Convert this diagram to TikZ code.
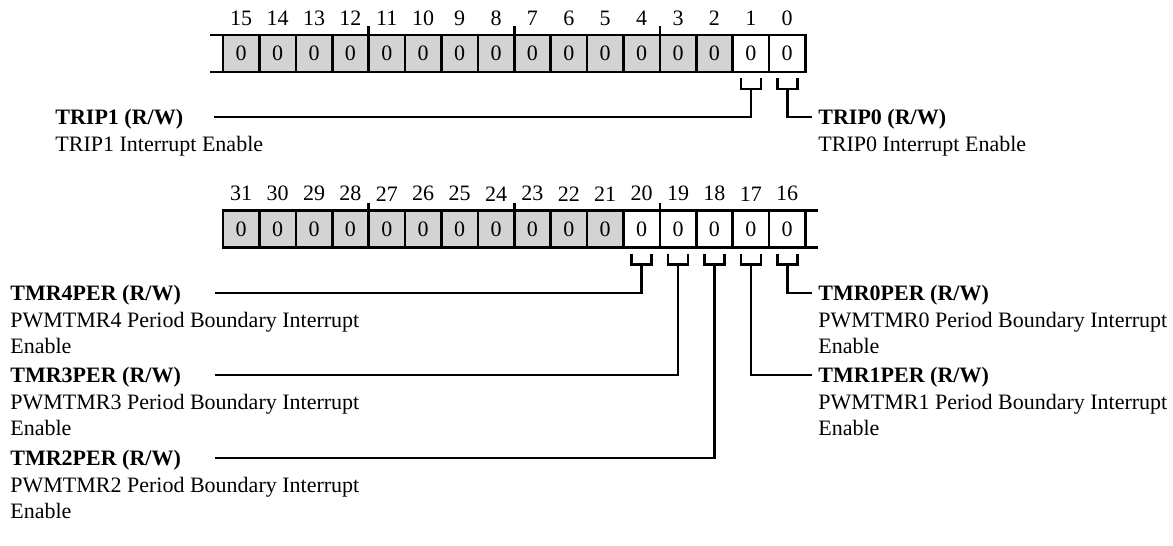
\documentclass[tikz,border=0pt]{standalone}
\usepackage{fontspec}
\setmainfont{Liberation Serif}
\usepackage{xcolor}
\usetikzlibrary{positioning}
\definecolor{rsvgray}{HTML}{D3D3D3}
\tikzset{
  regline/.style={black, line width=1.3pt},
  bitcell/.style={draw, line width=1.3pt, outer sep=0pt, inner sep=0pt, minimum width=18.2pt, minimum height=18.5pt, fill=white, font=\fontsize{11}{13}\selectfont},
  rsvcell/.style={bitcell, fill=rsvgray},
  bitnum/.style={inner sep=0pt, font=\fontsize{11}{13}\selectfont},
  fieldname/.style={inner sep=0pt, text height=7.5pt, text depth=0pt, font=\fontsize{11}{12.75}\selectfont\bfseries},
  fielddesc/.style={inner sep=0pt, align=left, font=\fontsize{11}{12.75}\selectfont}
}

\begin{document}
\begin{tikzpicture}[x=0.5pt, y=-0.5pt]
  \useasboundingbox (0,0) rectangle (1173,546);
  % low half word
  \foreach \b in {0,...,15}{
    \pgfmathsetmacro{\cx}{241.2+36.4*(15-\b)}
    \ifnum\b<2 \def\cellfill{white}\else\def\cellfill{rsvgray}\fi
    \node[bitcell, fill=\cellfill] (t\b) at (\cx,53.5) {0};
    \node[bitnum, above=4.5pt of t\b] {\b};
  }
  \draw[regline] ([xshift=-6.5pt]t15.north west) -- (t0.north east);
  \draw[regline] ([xshift=-6.5pt]t15.south west) -- (t0.south east);
  \foreach \b in {12,8,4}
    \draw[regline] (t\b.north east) -- ++(0,-9);
  % high half word
  \foreach \b in {16,...,31}{
    \pgfmathsetmacro{\cx}{241.2+36.4*(31-\b)}
    \ifnum\b<21 \def\cellfill{white}\else\def\cellfill{rsvgray}\fi
    \node[bitcell, fill=\cellfill] (b\b) at (\cx,229) {0};
    \node[bitnum, above=4.5pt of b\b] {\b};
  }
  \draw[regline] (b31.north west) -- ([xshift=6.5pt]b16.north east);
  \draw[regline] (b31.south west) -- ([xshift=6.5pt]b16.south east);
  \foreach \b in {28,24,20}
    \draw[regline] (b\b.north east) -- ++(0,-8);
  % brackets under the used bits
  \foreach \c in {t0,t1,b16,b17,b18,b19,b20}{
    \draw[regline] ([xshift=-5pt,yshift=-3pt]\c.south) -- ++(0,11) -- ++(20,0) -- ++(0,-11);
    \coordinate (k\c) at ([yshift=-8.5pt]\c.south);
  }
  % field labels
  \node[fieldname, anchor=west] (trip1) at (55,117) {TRIP1 (R/W)};
  \node[fielddesc, anchor=north west] (trip1d) at ([yshift=-5.5pt]trip1.south west) {TRIP1 Interrupt Enable};
  \node[fieldname, anchor=west] (trip0) at (818,117) {TRIP0 (R/W)};
  \node[fielddesc, anchor=north west] (trip0d) at ([yshift=-5.5pt]trip0.south west) {TRIP0 Interrupt Enable};
  \node[fieldname, anchor=west] (tmr4) at (10,293) {TMR4PER (R/W)};
  \node[fielddesc, anchor=north west] (tmr4d) at ([yshift=-5.5pt]tmr4.south west) {PWMTMR4 Period Boundary Interrupt\\Enable};
  \node[fieldname, anchor=west] (tmr3) at (10,375) {TMR3PER (R/W)};
  \node[fielddesc, anchor=north west] (tmr3d) at ([yshift=-5.5pt]tmr3.south west) {PWMTMR3 Period Boundary Interrupt\\Enable};
  \node[fieldname, anchor=west] (tmr2) at (10,458) {TMR2PER (R/W)};
  \node[fielddesc, anchor=north west] (tmr2d) at ([yshift=-5.5pt]tmr2.south west) {PWMTMR2 Period Boundary Interrupt\\Enable};
  \node[fieldname, anchor=west] (tmr0) at (818,293) {TMR0PER (R/W)};
  \node[fielddesc, anchor=north west] (tmr0d) at ([yshift=-5.5pt]tmr0.south west) {PWMTMR0 Period Boundary Interrupt\\Enable};
  \node[fieldname, anchor=west] (tmr1) at (818,375) {TMR1PER (R/W)};
  \node[fielddesc, anchor=north west] (tmr1d) at ([yshift=-5.5pt]tmr1.south west) {PWMTMR1 Period Boundary Interrupt\\Enable};
  % connectors
  \draw[regline] ([xshift=15pt]trip1.east) -| (kt1);
  \draw[regline] (kt0) |- ([xshift=-3pt]trip0.west);
  \draw[regline] ([xshift=17pt]tmr4.east) -| (kb20);
  \draw[regline] ([xshift=17pt]tmr3.east) -| (kb19);
  \draw[regline] ([xshift=17pt]tmr2.east) -| (kb18);
  \draw[regline] (kb16) |- ([xshift=-3pt]tmr0.west);
  \draw[regline] (kb17) |- ([xshift=-3pt]tmr1.west);
\end{tikzpicture}
\end{document}
